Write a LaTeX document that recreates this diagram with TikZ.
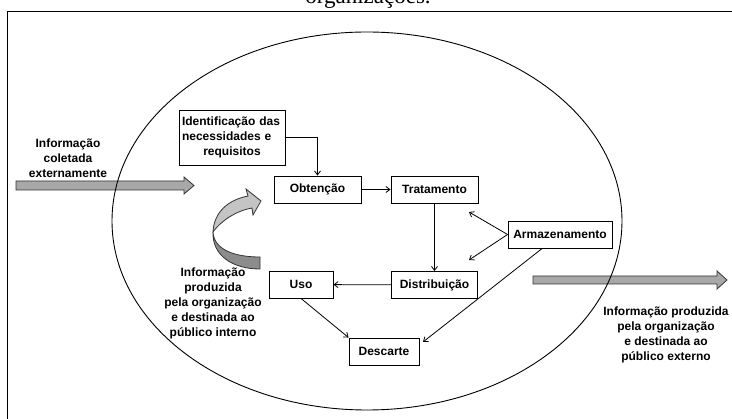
\documentclass[tikz,border=0pt]{standalone}
\usepackage{fontspec}
\setmainfont{Liberation Sans}
\newfontfamily\capfont{Liberation Serif}
\usetikzlibrary{arrows.meta,calc}
\definecolor{arrowgray}{RGB}{168,168,168}
\definecolor{curvetop}{RGB}{196,196,196}
\definecolor{curvebot}{RGB}{140,140,140}

\begin{document}
\begin{tikzpicture}[x=1pt,y=-1pt,
  stage/.style={draw,line width=0.9pt,minimum height=27pt,inner sep=0pt,
    font=\bfseries\fontsize{12}{15}\selectfont},
  note/.style={align=center,inner sep=0pt,font=\bfseries\fontsize{12}{15}\selectfont},
  flow/.style={-{Straight Barb[length=4pt,width=6pt]},line width=0.8pt},
  bigarrow/.style={fill=arrowgray,draw=black!80,line width=0.8pt}]
  \useasboundingbox (0,0) rectangle (732,419);

  % caption and frame
  \node[anchor=base,font=\capfont\fontsize{23}{27}\selectfont] (caption) at (368,4) {organizações.};
  \draw[line width=0.9pt] (7,430) -- (7,11) -- (740,11);

  % incoming and outgoing information
  \draw[bigarrow] (16,181) -- (184,181) -- (184,177) -- (194,185.5) -- (184,194) -- (184,190) -- (16,190) -- cycle;
  \draw[bigarrow] (533,276) -- (717,276) -- (717,271) -- (727,280) -- (717,289) -- (717,284) -- (533,284) -- cycle;

  % the organisation
  \draw[line width=0.9pt] (367,221) ellipse [x radius=255, y radius=189];

  % internal information loop
  \draw[bigarrow,fill=curvebot] (213,232) .. controls (214,250) and (235,257) .. (260,257)
    -- (260,269) .. controls (232,269) and (212,255) .. (213,232) -- cycle;
  \draw[bigarrow,fill=curvetop] (213,232) .. controls (214,212) and (228,200) .. (248,196)
    -- (246,189) -- (261,201) -- (253,215) -- (252,208)
    .. controls (235,211) and (220,222) .. (213,232) -- cycle;

  % stages
  \node[stage,minimum width=106pt,minimum height=55pt,align=center,text width=100pt] (ident) at (232,137.5)
    {\makebox[100pt][s]{Identificação das}\\\makebox[100pt][s]{necessidades e}\\requisitos};
  \node[stage,minimum width=87pt] (obt) at (317.5,189.5) {Obtenção};
  \node[stage,minimum width=87pt] (trat) at (434.5,189.5) {Tratamento};
  \node[stage,minimum width=104pt] (arm) at (560,234.5) {Armazenamento};
  \node[stage,minimum width=86pt] (dist) at (434.5,285) {Distribuição};
  \node[stage,minimum width=64pt] (uso) at (301,284.5) {Uso};
  \node[stage,minimum width=70pt] (desc) at (384,351.5) {Descarte};

  % flows
  \draw[flow] (ident.east) -| (obt.north);
  \draw[flow] (obt) -- (trat);
  \draw[flow] (trat) -- (dist);
  \draw[flow] (dist) -- (uso);
  \draw[flow] (uso.south) -- (desc.north west);
  \coordinate (armup) at (469,212);
  \coordinate (armdn) at (469,260);
  \coordinate (armdesc) at (423,342);
  \draw[flow] (arm.west) -- (armup);
  \draw[flow] (arm.west) -- (armdn);
  \draw[flow] ($(arm.south west)!0.33!(arm.south east)$) -- (armdesc);

  % labels
  \node[note] (extin) at (68,158) {Informação\\coletada\\externamente};
  \node[note] (intern) at (213,303) {Informação\\produzida\\pela organização\\e destinada ao\\público interno};
  \node[note] (extout) at (666,335) {Informação produzida\\pela organização\\e destinada ao\\público externo};
\end{tikzpicture}
\end{document}
